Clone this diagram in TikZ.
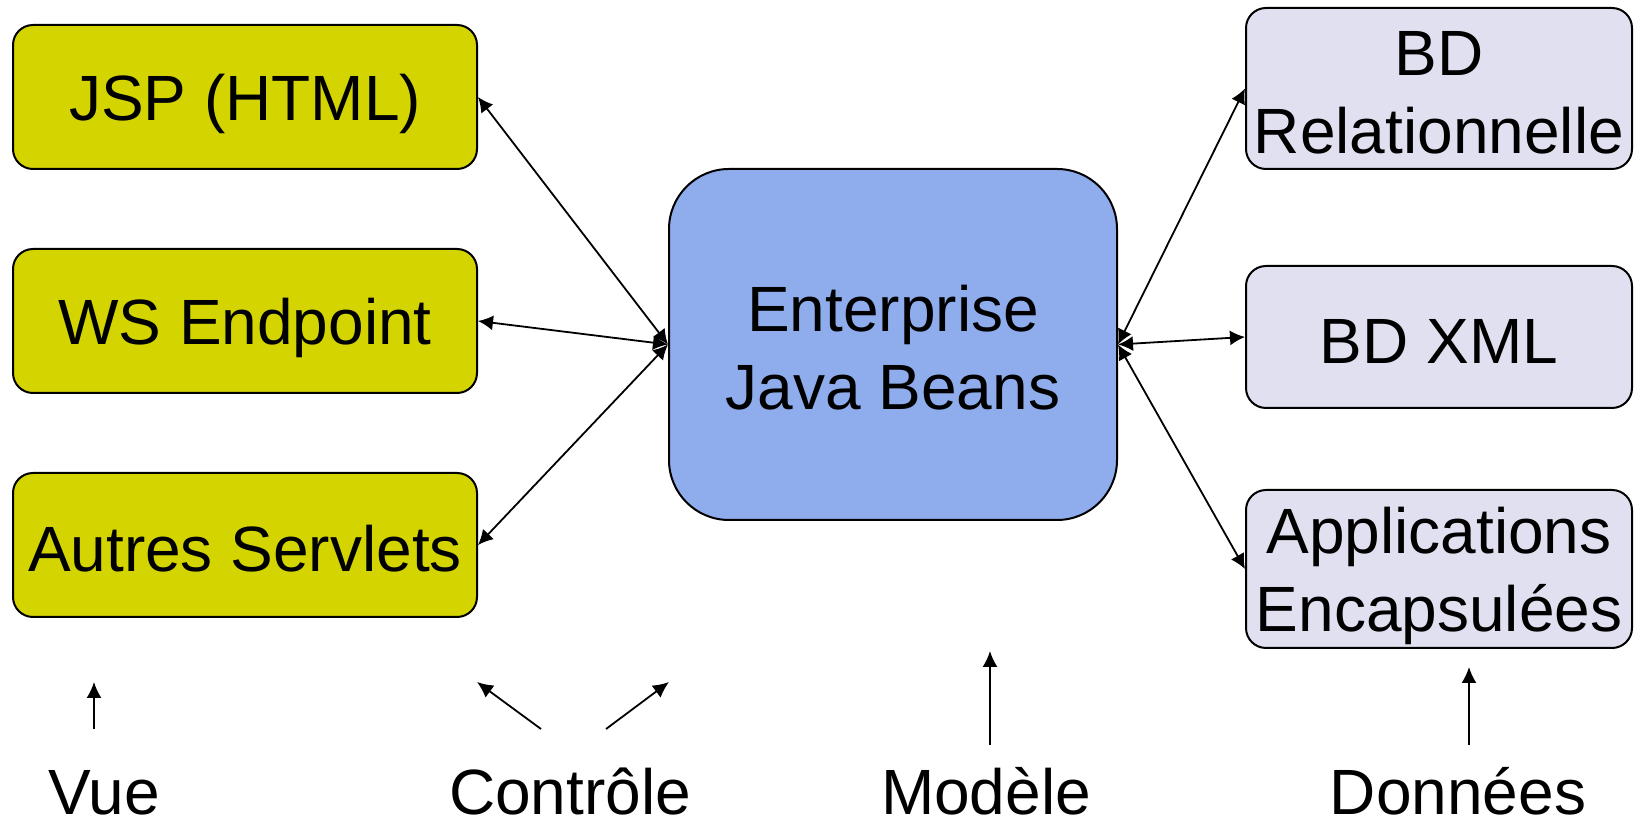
\documentclass[tikz,border=0pt]{standalone}
\usepackage{fontspec}
\setmainfont{Liberation Sans}
\usetikzlibrary{arrows.meta}
\definecolor{viewfill}{RGB}{212,212,0}
\definecolor{ejbfill}{RGB}{143,173,237}
\definecolor{datafill}{RGB}{224,224,240}
% struts that fix the extent of the first and last text line in a box
\newcommand\lineTop{\rule{0pt}{30pt}}
\newcommand\lineBot{\rule[-3.5pt]{0pt}{3.5pt}}
\begin{document}
\begin{tikzpicture}[x=0.5pt,y=-0.5pt,
  box/.style={draw=black, line width=1pt, rounded corners=10pt, inner sep=0pt,
    align=center, font=\fontsize{32}{39}\selectfont},
  viewbox/.style={box, fill=viewfill, minimum width=232pt, minimum height=72pt},
  ejbbox/.style={box, fill=ejbfill, rounded corners=30pt, minimum width=224pt, minimum height=175.5pt},
  databox/.style={box, fill=datafill, minimum width=193pt},
  link/.style={{Latex[length=7.5pt,width=7.5pt]}-{Latex[length=7.5pt,width=7.5pt]}, line width=0.9pt},
  pointer/.style={-{Latex[length=8pt,width=7.5pt]}, line width=0.9pt},
  layername/.style={font=\fontsize{32}{39}\selectfont, anchor=base, inner sep=0pt}
]
\useasboundingbox (0,0) rectangle (1634,822);

% view layer
\node[viewbox] (jsp) at (245,97) {\lineTop JSP (HTML)\lineBot};
\node[viewbox] (ws) at (245,321) {\lineTop WS Endpoint\lineBot};
\node[viewbox] (servlets) at (245,545) {\lineTop Autres Servlets\lineBot};

% model
\node[ejbbox] (ejb) at (893,344.5) {\lineTop Enterprise\\Java Beans\lineBot};

% data layer
\node[databox, minimum height=80.5pt] (rel) at (1439,88.5) {\lineTop BD\\Relationnelle\lineBot};
\node[databox, minimum height=71pt] (xml) at (1439,337) {\lineTop BD XML\lineBot};
\node[databox, minimum height=79pt] (apps) at (1439,569) {\lineTop Applications\\Encapsulées\lineBot};

% links
\draw[link] (jsp.east) -- (ejb.west);
\draw[link] (ws.east) -- (ejb.west);
\draw[link] (servlets.east) -- (ejb.west);
\draw[link] (ejb.east) -- (rel.west);
\draw[link] (ejb.east) -- (xml.west);
\draw[link] (ejb.east) -- (apps.west);

% layer names
\node[layername] (vue) at (104,815) {Vue};
\node[layername] (ctrl) at (570,815) {Contrôle};
\node[layername] (modele) at (986,815) {Modèle};
\node[layername] (donnees) at (1458,815) {Données};

\coordinate (vueA) at (94,729);
\coordinate (vueB) at (94,682);
\coordinate (ctrlA) at (541,729);
\coordinate (ctrlB) at (477,682);
\coordinate (ctrlC) at (606,729);
\coordinate (ctrlD) at (669,682);
\coordinate (modA) at (990,745);
\coordinate (modB) at (990,651);
\coordinate (donA) at (1469,745);
\coordinate (donB) at (1469,667);

\draw[pointer] (vueA) -- (vueB);
\draw[pointer] (ctrlA) -- (ctrlB);
\draw[pointer] (ctrlC) -- (ctrlD);
\draw[pointer] (modA) -- (modB);
\draw[pointer] (donA) -- (donB);
\end{tikzpicture}
\end{document}
